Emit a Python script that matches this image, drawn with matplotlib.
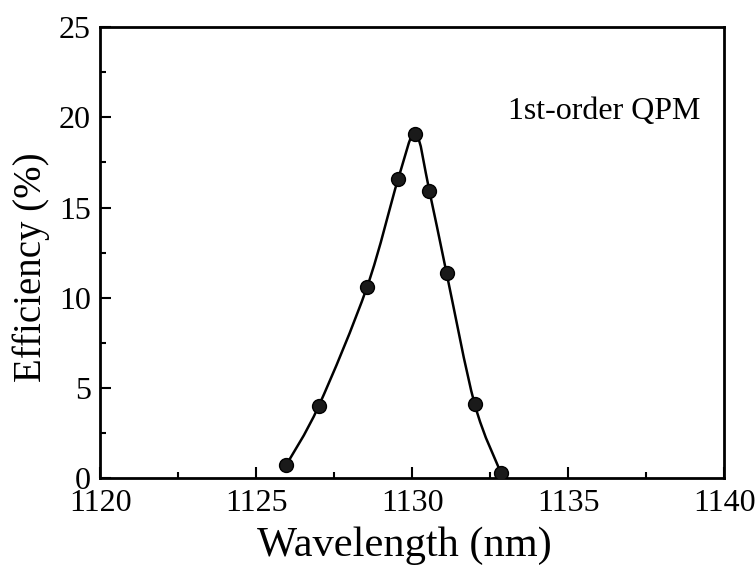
import numpy as np
import matplotlib
matplotlib.use("Agg")
import matplotlib.pyplot as plt
from matplotlib.path import Path
from matplotlib.patches import PathPatch
from matplotlib.ticker import MultipleLocator

# measured points: wavelength (nm) and SHG efficiency (%)
wavelength = [1125.95, 1127.0, 1128.55, 1129.55, 1130.1, 1130.55, 1131.1, 1132.0, 1132.85]
efficiency = [0.7, 4.0, 10.6, 16.6, 19.1, 15.9, 11.35, 4.1, 0.25]

x_ticks = [1120, 1125, 1130, 1135, 1140]
y_ticks = [0, 5, 10, 15, 20, 25]

plt.rcParams['font.family'] = ['Liberation Serif', 'DejaVu Serif']


def smooth_path(xs, ys):
    # bezier path through the points (catmull-rom style control points)
    pts = list(zip(xs, ys))
    verts = [pts[0]]
    codes = [Path.MOVETO]
    n = len(pts)
    for i in range(n - 1):
        p0 = pts[i - 1] if i > 0 else pts[i]
        p1 = pts[i]
        p2 = pts[i + 1]
        p3 = pts[i + 2] if i + 2 < n else pts[i + 1]
        c1 = (p1[0] + (p2[0] - p0[0]) / 6.0, p1[1] + (p2[1] - p0[1]) / 6.0)
        c2 = (p2[0] - (p3[0] - p1[0]) / 6.0, p2[1] - (p3[1] - p1[1]) / 6.0)
        verts += [c1, c2, p2]
        codes += [Path.CURVE4] * 3
    return Path(verts, codes)


fig = plt.figure(figsize=(7.55, 5.78), dpi=100)
ax = fig.add_axes([0.1331, 0.173, 0.826, 0.780])

ax.add_patch(PathPatch(smooth_path(wavelength, efficiency), facecolor='none',
                       edgecolor='black', lw=1.8, zorder=2))
ax.plot(wavelength, efficiency, 'o', color='#1a1a1a', markersize=10,
        markeredgecolor='black', markeredgewidth=1.0, zorder=3)

ax.set_xlim(1120, 1140)
ax.set_ylim(0, 25)
ax.set_xticks(x_ticks)
ax.set_yticks(y_ticks)
ax.xaxis.set_minor_locator(MultipleLocator(2.5))
ax.yaxis.set_minor_locator(MultipleLocator(2.5))
ax.tick_params(which='both', direction='in', top=False, right=False, width=1.5)
ax.tick_params(which='major', length=8, labelsize=23)
ax.tick_params(which='minor', length=4)
ax.tick_params(axis='x', which='major', pad=8)
ax.tick_params(axis='y', which='major', pad=7)

for s in ax.spines.values():
    s.set_linewidth(2.0)

ax.set_xlabel('Wavelength (nm)', fontsize=30.5)
ax.set_ylabel('Efficiency (%)', fontsize=28)
ax.xaxis.set_label_coords(0.488, -0.108)
ax.yaxis.set_label_coords(-0.081, 0.468)

ax.text(0.653, 0.812, '1st-order QPM', transform=ax.transAxes, fontsize=23,
        ha='left', va='center')

fig.savefig('out.png', dpi=100)
